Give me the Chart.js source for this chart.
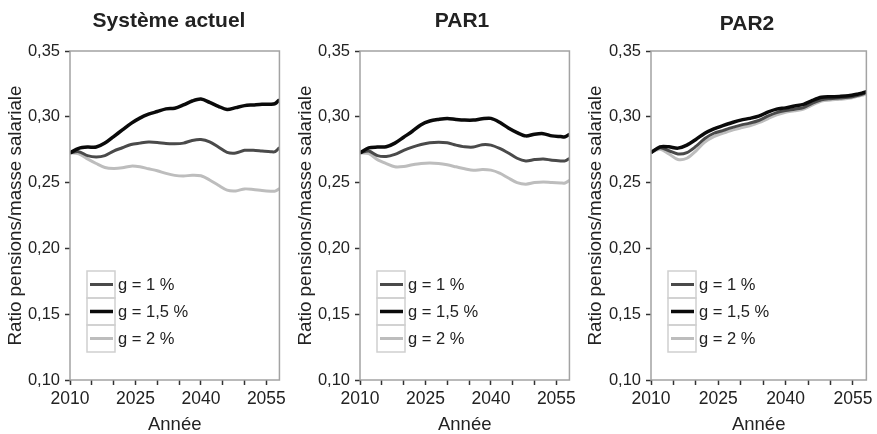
<!DOCTYPE html>
<html>
<head>
<meta charset="utf-8">
<script src="https://cdn.jsdelivr.net/npm/chart.js@4.4.1/dist/chart.umd.min.js"></script>
<style>
  html, body { margin: 0; padding: 0; background: #fff; }
  #wrap { position: relative; width: 877px; height: 434px; overflow: hidden; }
  canvas { position: absolute; top: 0; }
</style>
</head>
<body>
<div id="wrap">
  <canvas id="c0" width="290" height="434" style="left:0px"></canvas>
  <canvas id="c1" width="290" height="434" style="left:290px"></canvas>
  <canvas id="c2" width="297" height="434" style="left:580px"></canvas>
</div>
<script>
// Data
const years = [2010, 2012, 2014, 2016, 2018, 2020, 2022, 2024, 2026, 2028, 2030, 2032, 2034,
  2036, 2038, 2040, 2042, 2044, 2046, 2048, 2050, 2052, 2054, 2056, 2057, 2058];

const panelTitles = ["Système actuel", "PAR1", "PAR2"];
const seriesLabels = ["g = 1 %", "g = 1,5 %", "g = 2 %"];

const actuelG1 = [0.2726, 0.2735, 0.2705, 0.2695, 0.2705, 0.274, 0.2765, 0.279, 0.280, 0.2808, 0.2805, 0.2797, 0.2795,
  0.280, 0.282, 0.2827, 0.281, 0.277, 0.273, 0.2725, 0.2745, 0.2745, 0.274, 0.2735, 0.2735, 0.2765];
const actuelG15 = [0.2726, 0.276, 0.277, 0.277, 0.280, 0.285, 0.290, 0.295, 0.299, 0.302, 0.304, 0.306, 0.3065,
  0.309, 0.312, 0.3135, 0.311, 0.308, 0.3055, 0.307, 0.3085, 0.309, 0.3095, 0.3095, 0.310, 0.313];
const actuelG2 = [0.2726, 0.2718, 0.268, 0.2645, 0.2615, 0.2607, 0.2612, 0.2625, 0.262, 0.2605, 0.259, 0.257, 0.2555,
  0.255, 0.2556, 0.2552, 0.252, 0.248, 0.2443, 0.2437, 0.2452, 0.2448, 0.244, 0.2435, 0.2435, 0.2455];

const par1G1 = [0.2726, 0.274, 0.2705, 0.2698, 0.2715, 0.2745, 0.277, 0.279, 0.2803, 0.2806, 0.2803, 0.2785, 0.2772,
  0.277, 0.2788, 0.2785, 0.276, 0.2725, 0.2685, 0.2665, 0.2675, 0.268, 0.267, 0.2665, 0.2665, 0.2683];
const par1G15 = [0.2726, 0.2764, 0.277, 0.2772, 0.280, 0.2845, 0.289, 0.294, 0.2968, 0.298, 0.2987, 0.298, 0.2975,
  0.2975, 0.2985, 0.2988, 0.2958, 0.2915, 0.288, 0.2855, 0.2868, 0.2872, 0.2855, 0.285, 0.2848, 0.2868];
const par1G2 = [0.2726, 0.272, 0.2675, 0.2645, 0.262, 0.2622, 0.2635, 0.2645, 0.2648, 0.2645, 0.2635, 0.262, 0.2605,
  0.2593, 0.260, 0.2595, 0.2572, 0.2535, 0.250, 0.2488, 0.250, 0.2505, 0.250, 0.2497, 0.2497, 0.2518];

const par2G1 = [0.2728, 0.2764, 0.2742, 0.2718, 0.2728, 0.2775, 0.2835, 0.2875, 0.2895, 0.2918, 0.2937, 0.2952, 0.2972,
  0.3005, 0.3032, 0.3048, 0.3058, 0.307, 0.3103, 0.313, 0.3138, 0.3142, 0.3148, 0.3162, 0.317, 0.3185];
const par2G15 = [0.2728, 0.2772, 0.2772, 0.2762, 0.2785, 0.2828, 0.2875, 0.2908, 0.2933, 0.2955, 0.2975, 0.2988, 0.3005,
  0.3035, 0.3058, 0.3068, 0.3082, 0.3095, 0.3125, 0.3148, 0.3152, 0.3155, 0.316, 0.3172, 0.318, 0.319];
const par2G2 = [0.2728, 0.2754, 0.2718, 0.2675, 0.2685, 0.274, 0.2808, 0.285, 0.2875, 0.2898, 0.2916, 0.2932, 0.2955,
  0.2985, 0.3015, 0.3035, 0.3045, 0.3058, 0.309, 0.312, 0.3128, 0.3133, 0.314, 0.3155, 0.3163, 0.3175];

const yTickValues = [0.10, 0.15, 0.20, 0.25, 0.30, 0.35];
const xTickYears = [2010, 2015, 2020, 2025, 2030, 2035, 2040, 2045, 2050, 2055];
const xLabelYears = [2010, 2025, 2040, 2055];

const panels = [
  { title: panelTitles[0], series: [actuelG1, actuelG15, actuelG2], titleX: 169, titleY: 21, axisLeft: 70, padRight: 3 },
  { title: panelTitles[1], series: [par1G1, par1G15, par1G2], titleX: 172, titleY: 21, axisLeft: 70, padRight: 3 },
  { title: panelTitles[2], series: [par2G1, par2G15, par2G2], titleX: 167, titleY: 24, axisLeft: 71, padRight: 10 },
];

const lineColors = ["#4a4a4a", "#0a0a0a", "#bdbdbd"];
const lineWidths = [3, 3.5, 3];
const FONT = "'Liberation Sans', Arial, Helvetica, sans-serif";

// frame around the plot, panel title and the in-plot legend
const decorations = {
  id: "decorations",
  afterDatasetsDraw(chart, args, opts) {
    const { ctx, chartArea } = chart;
    ctx.save();
    ctx.strokeStyle = "#a3a3a3";
    ctx.lineWidth = 1.5;
    ctx.strokeRect(chartArea.left, chartArea.top, chartArea.right - chartArea.left, chartArea.bottom - chartArea.top);

    // legend boxes
    const bx = chartArea.left + 17, by = chartArea.top + 220, bw = 28, rh = 27;
    chart.data.datasets.forEach(function (ds, i) {
      const y = by + i * rh;
      ctx.strokeStyle = "#cfcfcf";
      ctx.lineWidth = 1.5;
      ctx.strokeRect(bx, y, bw, rh);
      ctx.strokeStyle = ds.borderColor;
      ctx.lineWidth = ds.borderWidth;
      ctx.beginPath();
      ctx.moveTo(bx + 3, y + rh / 2);
      ctx.lineTo(bx + bw - 2, y + rh / 2);
      ctx.stroke();
      ctx.fillStyle = "#222";
      ctx.font = "16.5px " + FONT;
      ctx.textBaseline = "middle";
      ctx.textAlign = "left";
      ctx.fillText(ds.label, bx + bw + 3, y + rh / 2 + 1);
    });

    // panel title
    ctx.fillStyle = "#222";
    ctx.font = "bold 21px " + FONT;
    ctx.textAlign = "center";
    ctx.textBaseline = "middle";
    ctx.fillText(opts.title, opts.titleX, opts.titleY);
    ctx.restore();
  },
};

panels.forEach(function (p, idx) {
  const ctx = document.getElementById("c" + idx).getContext("2d");
  new Chart(ctx, {
    type: "line",
    data: {
      labels: years,
      datasets: seriesLabels.map(function (label, i) {
        return {
          label: label,
          data: years.map(function (yr, k) { return { x: yr, y: p.series[i][k] }; }),
          borderColor: lineColors[i],
          backgroundColor: lineColors[i],
          borderWidth: lineWidths[i],
          pointRadius: 0,
          tension: 0.3,
          order: i === 1 ? 0 : (i === 0 ? 1 : 2),
        };
      }),
    },
    plugins: [decorations],
    options: {
      responsive: false,
      animation: false,
      layout: { padding: { left: 0, top: 51, right: p.padRight, bottom: 0 } },
      scales: {
        x: {
          type: "linear",
          min: 2010,
          max: 2058,
          afterBuildTicks: function (scale) {
            scale.ticks = xTickYears.map(function (v) { return { value: v }; });
          },
          afterFit: function (scale) { scale.height = 54; },
          ticks: {
            autoSkip: false,
            maxRotation: 0,
            padding: 4,
            color: "#222",
            font: { family: FONT, size: 17.5 },
            callback: function (v) { return xLabelYears.indexOf(v) >= 0 ? String(v) : ""; },
          },
          grid: { drawOnChartArea: false, drawTicks: true, tickLength: 5, tickColor: "#333", tickWidth: 1.5 },
          border: { display: false },
          title: {
            display: true,
            text: "Année",
            color: "#222",
            font: { family: FONT, size: 18.5, lineHeight: 1 },
            padding: { top: 0, bottom: 0 },
          },
        },
        y: {
          min: 0.1,
          max: 0.35,
          afterBuildTicks: function (scale) {
            scale.ticks = yTickValues.map(function (v) { return { value: v }; });
          },
          afterFit: function (scale) { scale.width = p.axisLeft; },
          ticks: {
            padding: 5,
            color: "#222",
            font: { family: FONT, size: 16.5 },
            callback: function (v) { return v.toFixed(2).replace(".", ","); },
          },
          grid: { drawOnChartArea: false, drawTicks: true, tickLength: 5, tickColor: "#333", tickWidth: 1.5 },
          border: { display: false },
          title: {
            display: true,
            text: "Ratio pensions/masse salariale",
            color: "#222",
            font: { family: FONT, size: 18.8, lineHeight: 1 },
            padding: { top: 6, bottom: 0 },
          },
        },
      },
      plugins: {
        legend: { display: false },
        tooltip: { enabled: false },
        decorations: { title: p.title, titleX: p.titleX, titleY: p.titleY },
      },
    },
  });
});
</script>
</body>
</html>
